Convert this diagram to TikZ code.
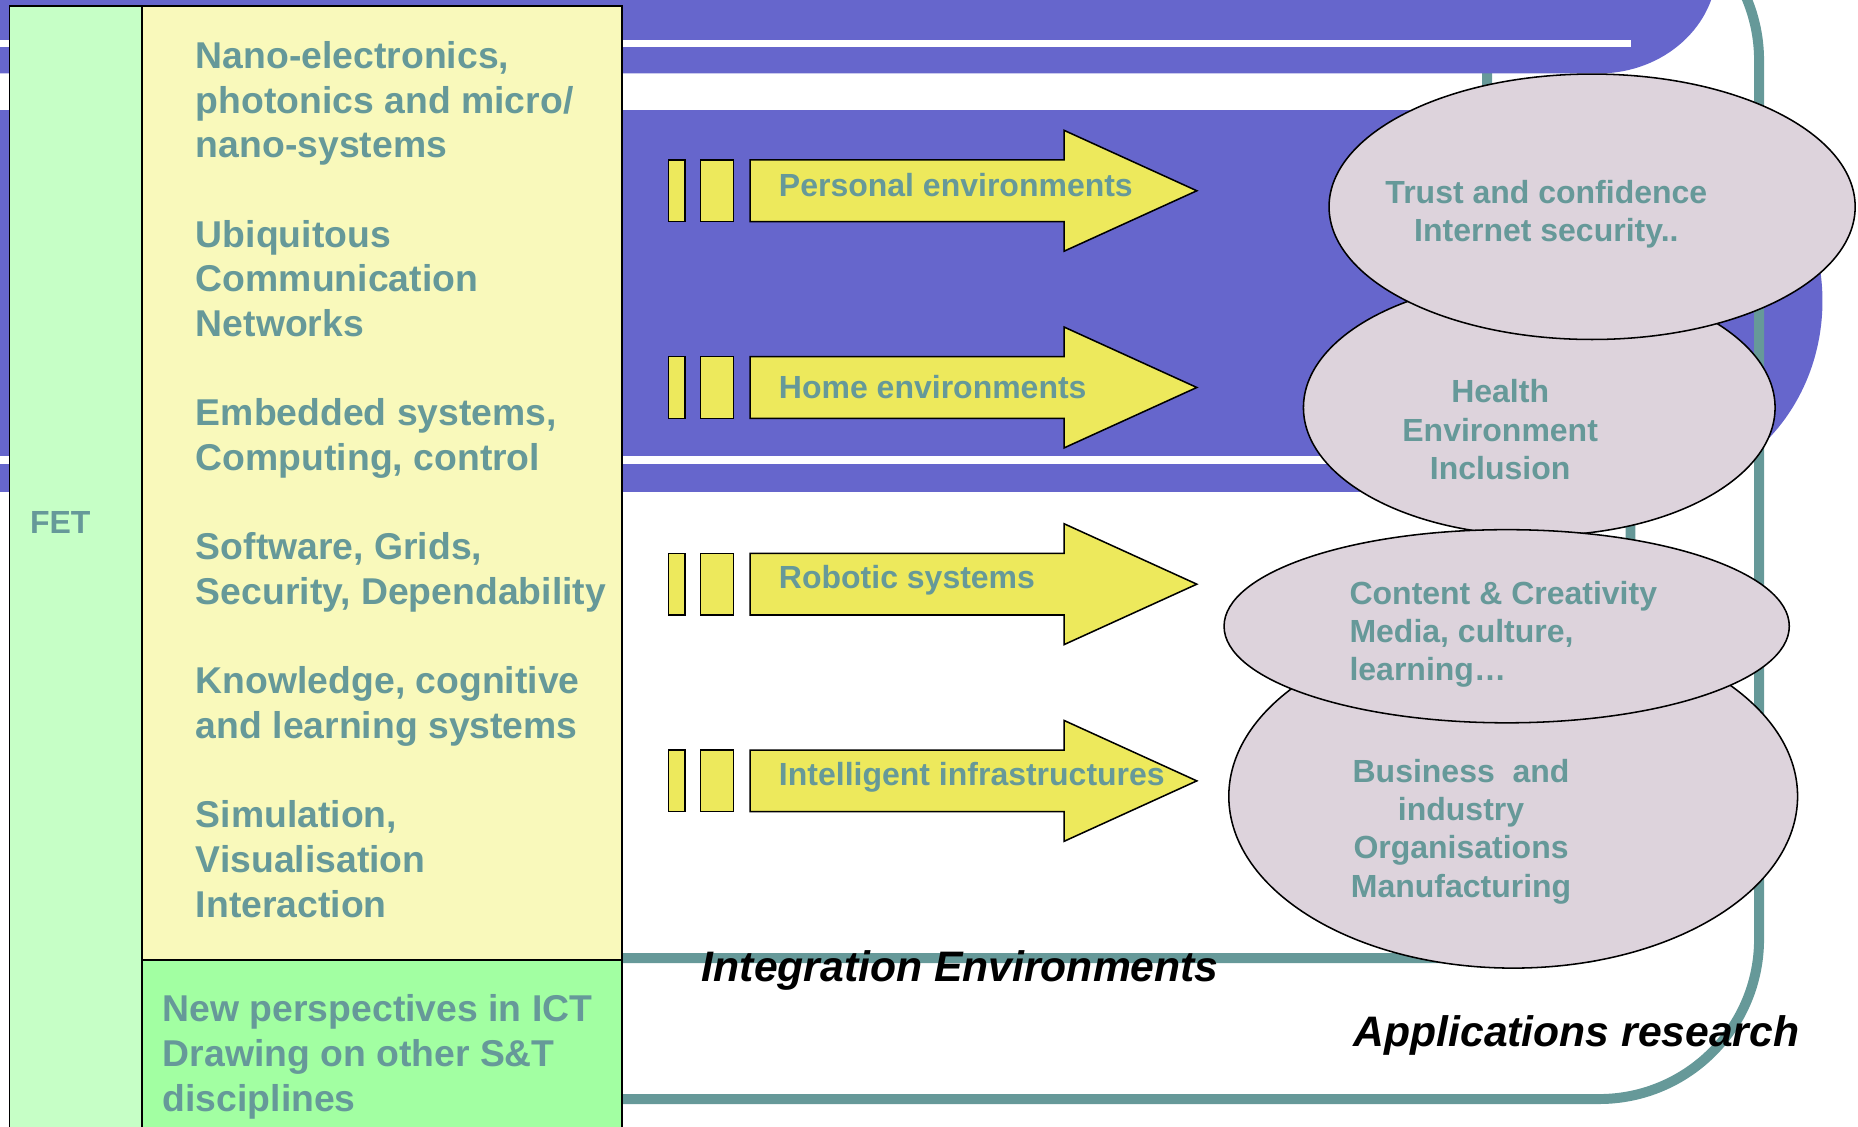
\documentclass[tikz,border=0pt]{standalone}
\usepackage{fontspec}
\setmainfont{Liberation Sans}
\usepackage{tikz}
\usetikzlibrary{positioning, shapes.geometric}
\definecolor{bandblue}{HTML}{6666CC}
\definecolor{frameteal}{HTML}{669999}
\definecolor{arrowyellow}{HTML}{EDE95C}
\definecolor{paleyellow}{HTML}{F9F9BB}
\definecolor{palegreen}{HTML}{C6FFC6}
\definecolor{midgreen}{HTML}{A2FFA2}
\definecolor{ellfill}{HTML}{DDD3DC}

\begin{document}
\begin{tikzpicture}[x=0.5pt, y=-0.5pt,
	tealframe/.style={draw=frameteal, line width=4.2pt},
	outline/.style={draw=black, line width=0.65pt},
	bar/.style={outline, rectangle, fill=arrowyellow, inner sep=0, minimum width=#1, minimum height=26pt},
	bubble/.style={outline, ellipse, fill=ellfill, inner sep=0},
	topictext/.style={anchor=base west, inner sep=0, text=frameteal, font=\fontsize{15.75}{18}\selectfont\bfseries},
	smalltext/.style={inner sep=0, text=frameteal, font=\fontsize{13.5}{16}\selectfont\bfseries},
	areatext/.style={anchor=base west, inner sep=0, font=\fontsize{18}{21}\selectfont\bfseries\itshape}]
	\useasboundingbox (0,0) rectangle (1568,951);
	\clip (0,0) rectangle (1568,951);
	\draw[tealframe] (1255,-20) -- (1255,150) -- (1376,350) [rounded corners=20pt] -- (1376,808.5) -- (300,808.5);
	\fill[bandblue] (-10,-100) -- (1449,-100) -- (1449,-28) arc[start angle=0, end angle=90, x radius=100, y radius=90] -- (-10,62) -- cycle;
	\fill[white] (-10,33.5) rectangle (1376,39.5);
	\fill[bandblue] (-10,93) -- (1390,93) arc[start angle=-90, end angle=90, x radius=148, y radius=161] -- (-10,415) -- cycle;
	\fill[white] (-10,385) rectangle (1300,392);
	\draw[tealframe, rounded corners=67.5pt] (300,-84) -- (1484.5,-84) -- (1484.5,927.5) -- (300,927.5);
	\draw[outline, fill=palegreen] (8,5) rectangle (120,980);
	\draw[outline, fill=paleyellow] (120,5) rectangle (525,810);
	\draw[outline, fill=midgreen] (120,810) rectangle (525,980);
	\foreach \y/\b/\t in {161/166/Personal environments, 327/336/Home environments, 493/497/Robotic systems, 659/663/Intelligent infrastructures} {
		\node[bar=7pt] (p\y) at (571,\y) {};
		\node[bar=14pt] (q\y) at (605,\y) {};
		\draw[outline, fill=arrowyellow] (633,\y-26) -- (898,\y-26) -- (898,\y-51) -- (1010,\y) -- (898,\y+51) -- (898,\y+26) -- (633,\y+26) -- cycle;
		\node[smalltext, anchor=base west] (arr\y) at (657,\b) {\t};
	};
	\node[bubble, minimum width=199pt, minimum height=108pt] (health) at (1299,344) {};
	\node[bubble, minimum width=222pt, minimum height=112pt] (trust) at (1343.6,174.5) {};
	\node[bubble, minimum width=240pt, minimum height=145pt] (business) at (1277,672) {};
	\node[bubble, minimum width=238.5pt, minimum height=81.5pt] (content) at (1271.5,528.5) {};
	\foreach \k/\t in {0/{Nano-electronics,}, 1/{photonics and micro/}, 2/nano-systems, 4/Ubiquitous, 5/Communication, 6/Networks, 8/{Embedded systems,}, 9/{Computing, control}, 11/{Software, Grids,}, 12/{Security, Dependability}, 14/{Knowledge, cognitive}, 15/and learning systems, 17/{Simulation,}, 18/Visualisation, 19/Interaction} {
		\node[topictext] (topic\k) at (165,57.7+37.7*\k) {\t};
	};
	\foreach \y/\t [count=\i] in {862/New perspectives in ICT, 900/Drawing on other S\&T, 938/disciplines} {
		\node[topictext] (persp\i) at (137,\y) {\t};
	};
	\node[smalltext, anchor=base west] (fet) at (25,450) {FET};
	\foreach \y/\t [count=\i] in {171.8/Trust and confidence, 203.5/Internet security..} {
		\node[smalltext, anchor=base] (trust\i) at (1305,\y) {\t};
	};
	\foreach \y/\t [count=\i] in {340/Health, 372.3/Environment, 404.5/Inclusion} {
		\node[smalltext, anchor=base] (health\i) at (1266,\y) {\t};
	};
	\foreach \y/\t [count=\i] in {510.4/{Content \& Creativity}, 542.2/{Media, culture,}, 574/learning…} {
		\node[smalltext, anchor=base west] (content\i) at (1138.5,\y) {\t};
	};
	\foreach \y/\t [count=\i] in {660.6/{Business\ \ and}, 692.6/industry, 724.8/Organisations, 757/Manufacturing} {
		\node[smalltext, anchor=base] (business\i) at (1233,\y) {\t};
	};
	\node[areatext] (integ) at (592,828.5) {Integration Environments};
	\node[areatext] (appl) at (1142,883) {Applications research};
\end{tikzpicture}
\end{document}
